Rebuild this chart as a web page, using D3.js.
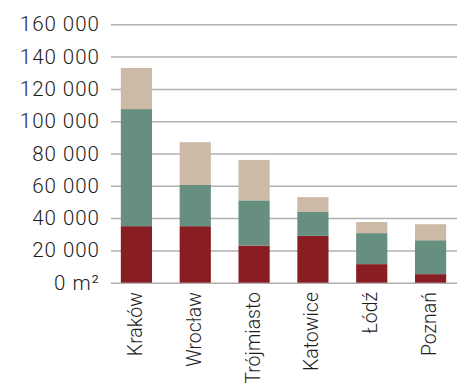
<!DOCTYPE html>
<html>
<head>
<meta charset="utf-8">
<script src="https://cdn.jsdelivr.net/npm/d3@7"></script>
<style>
  body { margin: 0; background: #fff; }
  text { font-family: Roboto, "Liberation Sans", sans-serif; font-weight: 300; fill: #1e1e1e; }
</style>
</head>
<body>
<div class="chart"></div>
<script>
// Data
var cities = ["Kraków", "Wrocław", "Trójmiasto", "Katowice", "Łódź", "Poznań"];
var seriesBottom = [35000, 35000, 23000, 29000, 11500, 5300];
var seriesMiddle = [72500, 25500, 28000, 14800, 19200, 21000];
var seriesTop = [25500, 26500, 25000, 9200, 6900, 9900];
var tickValues = [0, 20000, 40000, 60000, 80000, 100000, 120000, 140000, 160000];
var colors = ["#881e23", "#678f7f", "#cdbaa6"];

var svgWidth = 464;
var svgHeight = 383;

var svg = d3.select(".chart")
  .append("svg")
  .attr("width", svgWidth)
  .attr("height", svgHeight);

var gridLeft = 111;
var gridRight = 457;

var yScale = d3.scaleLinear()
  .domain([0, 160000])
  .range([282.7, 24.3]);

var xScale = d3.scaleBand()
  .domain(cities)
  .range([107, 460])
  .paddingInner(0.47)
  .paddingOuter(0.235);

// Build stacked table
var table = cities.map(function(c, i) {
  return { city: c, a: seriesBottom[i], b: seriesMiddle[i], c: seriesTop[i] };
});
var stack = d3.stack().keys(["a", "b", "c"]);
var layers = stack(table);

// Gridlines and y labels
var yAxis = d3.axisLeft(yScale)
  .tickValues(tickValues)
  .tickSize(-(gridRight - gridLeft))
  .tickPadding(11)
  .tickFormat(function(d) {
    return d === 0 ? "0 m²" : d3.format(",")(d).replace(/,/g, " ");
  });

var yG = svg.append("g")
  .attr("transform", `translate(${gridLeft}, 0)`)
  .call(yAxis);
yG.select(".domain").remove();
yG.selectAll(".tick line")
  .attr("stroke", "#b0b0b0")
  .attr("stroke-width", 1.5);
yG.selectAll(".tick text")
  .attr("font-family", "Roboto, 'Liberation Sans', sans-serif")
  .attr("font-size", 20.5)
  .attr("letter-spacing", 1)
  .attr("fill", "#1e1e1e");

// Bars
svg.selectAll(".layer")
  .data(layers)
  .enter()
  .append("g")
  .attr("class", "layer")
  .attr("fill", function(d, i) { return colors[i]; })
  .selectAll("rect")
  .data(function(d) { return d; })
  .enter()
  .append("rect")
  .attr("x", function(d) { return xScale(d.data.city); })
  .attr("y", function(d) { return yScale(d[1]); })
  .attr("width", xScale.bandwidth())
  .attr("height", function(d) { return yScale(d[0]) - yScale(d[1]); });

// X labels, rotated
svg.selectAll(".xlabel")
  .data(cities)
  .enter()
  .append("text")
  .attr("class", "xlabel")
  .attr("transform", function(d) {
    return `translate(${xScale(d) + xScale.bandwidth() / 2 + 5.5}, 292) rotate(-90)`;
  })
  .attr("text-anchor", "end")
  .attr("font-size", 19.5)
  .text(function(d) { return d; });
</script>
</body>
</html>
